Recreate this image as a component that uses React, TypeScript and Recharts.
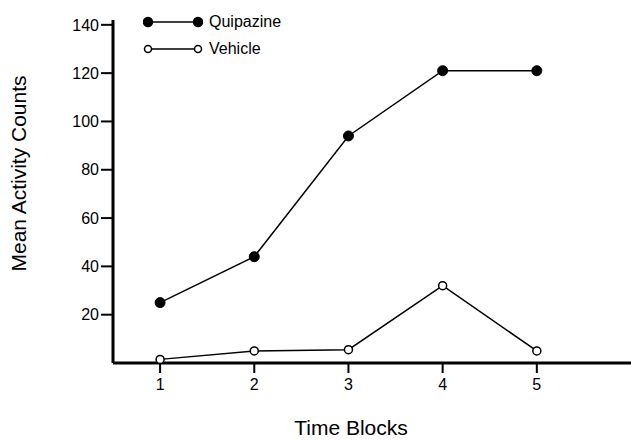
import { LineChart, Line, XAxis, YAxis, Label } from "recharts";

const blocks = [1, 2, 3, 4, 5];
const quipazine = [25, 44, 94, 121, 121];
const vehicle = [1.5, 5, 5.5, 32, 5];
const yTicks = [20, 40, 60, 80, 100, 120, 140];

const data = blocks.map((b, i) => ({
  block: b,
  quipazine: quipazine[i],
  vehicle: vehicle[i],
}));

const series = [
  { key: "quipazine", name: "Quipazine", filled: true },
  { key: "vehicle", name: "Vehicle", filled: false },
];

const font = "Liberation Sans, Arial, sans-serif";

// legend sits over the plot, outside recharts' layout
function LegendBox() {
  return (
    <div
      style={{
        position: "absolute",
        left: 143,
        top: 8,
        fontFamily: font,
        fontSize: 16,
        color: "#000",
      }}
    >
      {series.map((s) => (
        <div key={s.key} style={{ display: "flex", alignItems: "center", height: 27 }}>
          <svg width={60} height={14}>
            <line x1={5} y1={7} x2={55} y2={7} stroke="#000" strokeWidth={1.5} />
            <circle cx={5} cy={7} r={s.filled ? 4.5 : 3.5} fill={s.filled ? "#000" : "#fff"} stroke="#000" strokeWidth={1.5} />
            <circle cx={55} cy={7} r={s.filled ? 4.5 : 3.5} fill={s.filled ? "#000" : "#fff"} stroke="#000" strokeWidth={1.5} />
          </svg>
          <span style={{ marginLeft: 6 }}>{s.name}</span>
        </div>
      ))}
    </div>
  );
}

export default function App() {
  return (
    <div style={{ position: "absolute", left: 0, top: 0, background: "#fff" }}>
      <LineChart
        width={631}
        height={441}
        data={data}
        margin={{ top: 20, right: 0, bottom: 0, left: 0 }}
        style={{ fontFamily: font }}
      >
        <XAxis
          dataKey="block"
          type="number"
          domain={[0.5, 6]}
          ticks={blocks}
          allowDataOverflow
          height={78}
          axisLine={{ stroke: "#000", strokeWidth: 3 }}
          tickLine={{ stroke: "#000", strokeWidth: 2 }}
          tickSize={10}
          tickMargin={6}
          tick={{ fill: "#000", fontSize: 16 }}
        >
          <Label
            value="Time Blocks"
            position="insideBottom"
            offset={6}
            dx={-21}
            style={{ fill: "#000", fontSize: 21 }}
          />
        </XAxis>
        <YAxis
          type="number"
          domain={[0, 142]}
          ticks={yTicks}
          allowDataOverflow
          width={113}
          axisLine={{ stroke: "#000", strokeWidth: 3 }}
          tickLine={{ stroke: "#000", strokeWidth: 2 }}
          tickSize={12}
          tickMargin={2}
          tick={{ fill: "#000", fontSize: 16 }}
        >
          <Label
            value="Mean Activity Counts"
            angle={-90}
            position="insideLeft"
            offset={19}
            dy={-18}
            style={{ fill: "#000", fontSize: 21, textAnchor: "middle" }}
          />
        </YAxis>
        <Line
          dataKey="quipazine"
          name="Quipazine"
          stroke="#000"
          strokeWidth={1.5}
          dot={{ r: 5, fill: "#000", stroke: "#000", strokeWidth: 1 }}
          isAnimationActive={false}
        />
        <Line
          dataKey="vehicle"
          name="Vehicle"
          stroke="#000"
          strokeWidth={1.5}
          dot={{ r: 4, fill: "#fff", stroke: "#000", strokeWidth: 1.5 }}
          isAnimationActive={false}
        />
      </LineChart>
      <LegendBox />
    </div>
  );
}
